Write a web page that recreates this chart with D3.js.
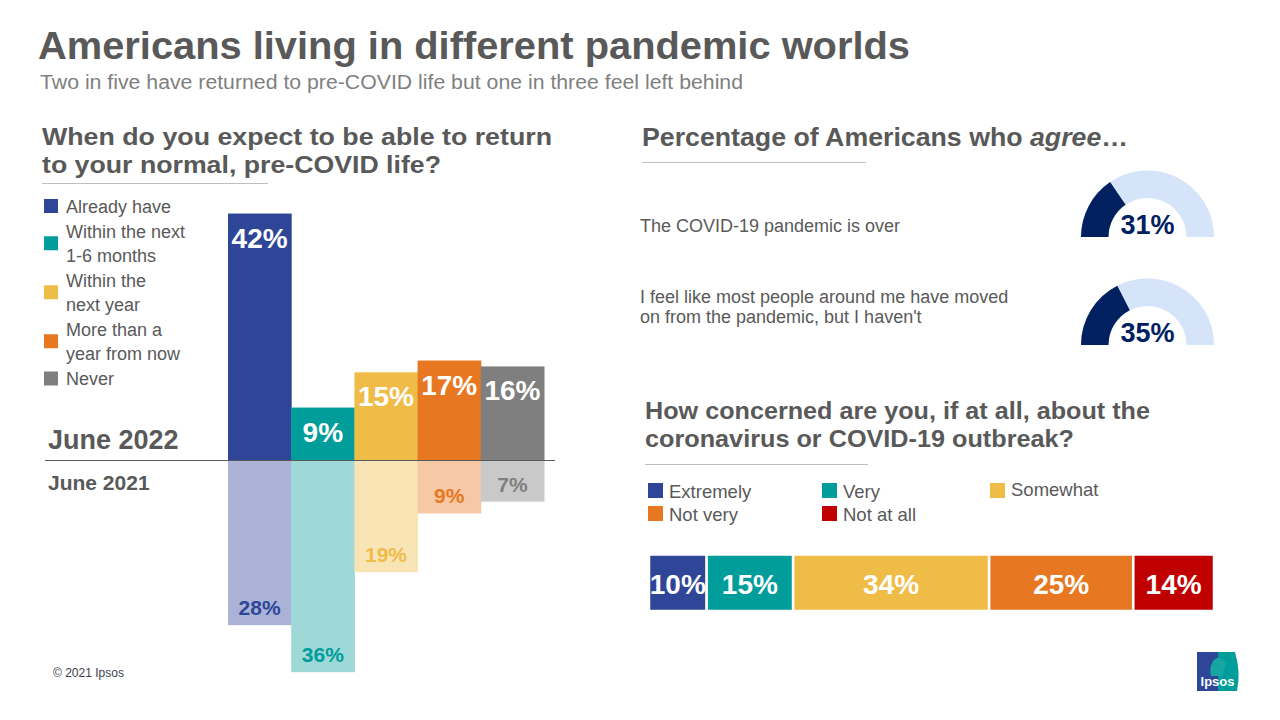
<!DOCTYPE html>
<html>
<head>
<meta charset="utf-8">
<script src="https://cdn.jsdelivr.net/npm/d3@7"></script>
<style>
  html, body { margin: 0; padding: 0; background: #ffffff; }
  svg { display: block; font-family: "Liberation Sans", Arial, sans-serif; }
</style>
</head>
<body>
<svg id="chart" width="1280" height="720"></svg>
<script>
// ---------------- DATA ----------------
const categories = ["Already have", "Within the next 1-6 months", "Within the next year", "More than a year from now", "Never"];
const legendLines = [["Already have"], ["Within the next", "1-6 months"], ["Within the", "next year"], ["More than  a", "year from now"], ["Never"]];
const june2022 = [42, 9, 15, 17, 16];
const june2021 = [28, 36, 19, 9, 7];
const periodLabels = ["June 2022", "June 2021"];

const agreeStatements = [["The COVID-19 pandemic is over"], ["I feel like most people around me have moved", "on from the pandemic, but I haven't"]];
const agreeValues = [31, 35];

const concernCategories = ["Extremely", "Very", "Somewhat", "Not very", "Not at all"];
const concernValues = [10, 15, 34, 25, 14];

// ---------------- STYLE ----------------
const strong = ["#2e4598", "#009d9a", "#f0bc48", "#e87722", "#7f7f7f"];
const light = ["#aab2d6", "#9ed9d8", "#f9e4b6", "#f6c8a5", "#c9c9c9"];
const concernColors = ["#2e4598", "#009d9a", "#f0bc48", "#e87722", "#c00000"];
const gaugeDark = "#002060", gaugeLight = "#d6e4f9";
const textGray = "#595959";

const svg = d3.select("#chart");

// ---------------- HEADER ----------------
svg.append("text").attr("x", 38).attr("y", 59)
  .attr("font-size", 39).attr("font-weight", "bold").attr("fill", textGray)
  .attr("textLength", 872).attr("lengthAdjust", "spacingAndGlyphs")
  .text("Americans living in different pandemic worlds");
svg.append("text").attr("x", 40).attr("y", 89)
  .attr("font-size", 20).attr("fill", "#808080")
  .attr("textLength", 703).attr("lengthAdjust", "spacingAndGlyphs")
  .text("Two in five have returned to pre-COVID  life but one in three feel left behind");

// ---------------- LEFT PANEL ----------------
const q1 = ["When do you expect to be able to return", "to your normal, pre-COVID life?"];
const q1W = [510, 399];
svg.append("g").selectAll("text").data(q1).join("text")
  .attr("x", 42).attr("y", (d, i) => 145 + i * 27.5)
  .attr("font-size", 24.5).attr("font-weight", "bold").attr("fill", textGray)
  .attr("textLength", (d, i) => q1W[i]).attr("lengthAdjust", "spacingAndGlyphs")
  .text(d => d);
svg.append("line").attr("x1", 42).attr("x2", 268).attr("y1", 183.5).attr("y2", 183.5)
  .attr("stroke", "#bfbfbf").attr("stroke-width", 1);

// legend
const legG = svg.append("g");
let cy = 206;
legendLines.forEach((lines, i) => {
  const centers = lines.map((l, j) => cy + j * 23.5);
  const mid = (centers[0] + centers[centers.length - 1]) / 2;
  legG.append("rect").attr("x", 44).attr("y", mid - 7).attr("width", 14).attr("height", 14).attr("fill", strong[i]);
  lines.forEach((l, j) => {
    legG.append("text").attr("x", 66).attr("y", centers[j] + 6.5)
      .attr("font-size", 18).attr("fill", textGray).text(l);
  });
  cy = centers[centers.length - 1] + 25.5;
});

// bars
const x = d3.scaleBand().domain(categories).range([228, 544]).paddingInner(0).paddingOuter(0);
const zeroY = 460.5;
const h = d3.scaleLinear().domain([0, 100]).range([0, 588]);

const barG = svg.append("g");
barG.selectAll("rect.top").data(june2022).join("rect")
  .attr("x", (d, i) => x(categories[i])).attr("width", x.bandwidth() + 0.5)
  .attr("y", d => zeroY - h(d)).attr("height", d => h(d))
  .attr("fill", (d, i) => strong[i]);
barG.selectAll("rect.bot").data(june2021).join("rect")
  .attr("x", (d, i) => x(categories[i])).attr("width", x.bandwidth() + 0.5)
  .attr("y", zeroY).attr("height", d => h(d))
  .attr("fill", (d, i) => light[i]);

barG.selectAll("text.top").data(june2022).join("text")
  .attr("x", (d, i) => x(categories[i]) + x.bandwidth() / 2)
  .attr("y", d => zeroY - h(d) + 34)
  .attr("text-anchor", "middle").attr("font-size", 28).attr("font-weight", "bold").attr("fill", "#ffffff")
  .text(d => d + "%");
barG.selectAll("text.bot").data(june2021).join("text")
  .attr("x", (d, i) => x(categories[i]) + x.bandwidth() / 2)
  .attr("y", d => zeroY + h(d) - 10)
  .attr("text-anchor", "middle").attr("font-size", 21).attr("font-weight", "bold").attr("fill", (d, i) => strong[i])
  .text(d => d + "%");

svg.append("line").attr("x1", 45).attr("x2", 555).attr("y1", zeroY).attr("y2", zeroY)
  .attr("stroke", "#595959").attr("stroke-width", 1.2);

svg.append("text").attr("x", 48).attr("y", 449).attr("font-size", 27).attr("font-weight", "bold")
  .attr("fill", textGray).text(periodLabels[0]);
svg.append("text").attr("x", 48).attr("y", 490).attr("font-size", 21).attr("font-weight", "bold")
  .attr("fill", textGray).text(periodLabels[1]);

// ---------------- RIGHT TOP: GAUGES ----------------
const agreeT = svg.append("text").attr("x", 642).attr("y", 146)
  .attr("font-size", 26).attr("font-weight", "bold").attr("fill", textGray)
  .attr("textLength", 486).attr("lengthAdjust", "spacingAndGlyphs");
agreeT.append("tspan").text("Percentage of Americans who ");
agreeT.append("tspan").attr("font-style", "italic").text("agree");
agreeT.append("tspan").text("…");
svg.append("line").attr("x1", 642).attr("x2", 866).attr("y1", 162.5).attr("y2", 162.5)
  .attr("stroke", "#bfbfbf").attr("stroke-width", 1);

const gaugeCY = [237, 345];
const textBase = [[232], [303, 323]];
const ang = d3.scaleLinear().domain([0, 100]).range([-Math.PI / 2, Math.PI / 2]);
const arc = d3.arc().innerRadius(39).outerRadius(66.5);

agreeValues.forEach((v, i) => {
  agreeStatements[i].forEach((line, j) => {
    svg.append("text").attr("x", 640).attr("y", textBase[i][j])
      .attr("font-size", 18).attr("fill", textGray).text(line);
  });
  const g = svg.append("g").attr("transform", `translate(1147.5,${gaugeCY[i]})`);
  g.append("path").attr("d", arc({ startAngle: ang(0), endAngle: ang(100) })).attr("fill", gaugeLight);
  g.append("path").attr("d", arc({ startAngle: ang(0), endAngle: ang(v) })).attr("fill", gaugeDark);
  g.append("text").attr("x", 0).attr("y", -3).attr("text-anchor", "middle")
    .attr("font-size", 27).attr("font-weight", "bold").attr("fill", gaugeDark).text(v + "%");
});

// ---------------- RIGHT BOTTOM: STACKED BAR ----------------
const q3 = ["How concerned are you, if at all, about the", "coronavirus or COVID-19 outbreak?"];
const q3W = [505, 429];
svg.append("g").selectAll("text").data(q3).join("text")
  .attr("x", 645).attr("y", (d, i) => 419 + i * 27.5)
  .attr("font-size", 24.5).attr("font-weight", "bold").attr("fill", textGray)
  .attr("textLength", (d, i) => q3W[i]).attr("lengthAdjust", "spacingAndGlyphs")
  .text(d => d);
svg.append("line").attr("x1", 645).attr("x2", 868).attr("y1", 464.5).attr("y2", 464.5)
  .attr("stroke", "#bfbfbf").attr("stroke-width", 1);

// legend (3 columns)
const colX = [648, 822, 990];
concernCategories.forEach((c, i) => {
  const col = i % 3, row = Math.floor(i / 3);
  const yC = 490.5 + row * 23;
  svg.append("rect").attr("x", colX[col]).attr("y", yC - 7.5).attr("width", 15).attr("height", 15).attr("fill", concernColors[i]);
  svg.append("text").attr("x", colX[col] + 21).attr("y", yC + 7 - (col === 2 ? 1.5 : 0))
    .attr("font-size", 18.5).attr("fill", textGray).text(c);
});

const total = d3.sum(concernValues);
const sx = d3.scaleLinear().domain([0, total]).range([649, 1214]);
const cum = d3.cumsum(concernValues);
const starts = concernValues.map((v, i) => cum[i] - v);
const sg = svg.append("g");
sg.selectAll("rect").data(concernValues).join("rect")
  .attr("x", (d, i) => sx(starts[i])).attr("width", d => sx(d) - sx(0))
  .attr("y", 554.5).attr("height", 56.5)
  .attr("fill", (d, i) => concernColors[i]).attr("stroke", "#ffffff").attr("stroke-width", 2.5);
sg.selectAll("text").data(concernValues).join("text")
  .attr("x", (d, i) => sx(starts[i] + d / 2)).attr("y", 594)
  .attr("text-anchor", "middle").attr("font-size", 28).attr("font-weight", "bold").attr("fill", "#ffffff")
  .text(d => d + "%");

// ---------------- FOOTER ----------------
svg.append("text").attr("x", 53).attr("y", 677).attr("font-size", 12).attr("fill", "#404050").text("© 2021 Ipsos");

const logo = svg.append("g");
logo.append("rect").attr("x", 1197).attr("y", 652).attr("width", 22).attr("height", 39).attr("fill", "#2e4598");
logo.append("path").attr("d", "M1218,652 L1235,652 Q1241,672 1237,691 L1218,691 Z").attr("fill", "#009d9a");
logo.append("path").attr("d", "M1211,676 Q1209,668 1213,661 Q1218,655 1224,660 Q1227,666 1223,671 L1223,676 Z").attr("fill", "#15a6a3");
logo.append("text").attr("x", 1217.5).attr("y", 686).attr("text-anchor", "middle")
  .attr("font-size", 13).attr("font-weight", "bold").attr("fill", "#ffffff").text("Ipsos");
</script>
</body>
</html>
